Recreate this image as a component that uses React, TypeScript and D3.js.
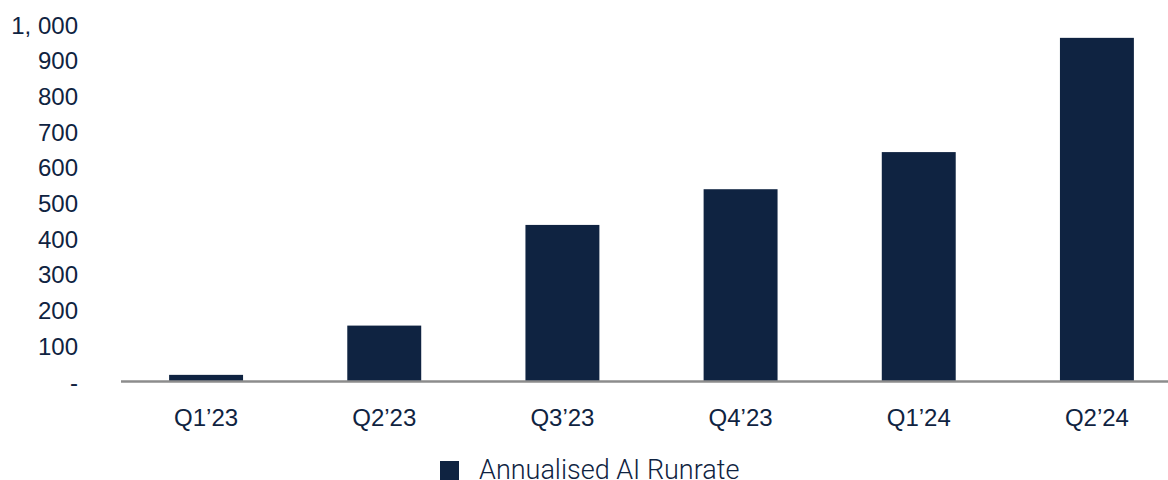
import React from "react";
import * as d3 from "d3";

const categories = ["Q1\u201923", "Q2\u201923", "Q3\u201923", "Q4\u201923", "Q1\u201924", "Q2\u201924"];
const runrate = [20, 158, 440, 540, 644, 964];
const yTicks = [0, 100, 200, 300, 400, 500, 600, 700, 800, 900, 1000];
const legendLabel = "Annualised AI Runrate";

const W = 1168;
const H = 480;
const NAVY = "#0f2341";

function fmt(v: number) {
  if (v === 0) return "-";
  if (v >= 1000) return d3.format(",")(v).replace(",", ", ");
  return String(v);
}

export default function App() {
  const x = d3.scaleBand<string>().domain(categories).range([117, 1186]).paddingInner(0.585).paddingOuter(0.2925);
  const y = d3.scaleLinear().domain([0, 1000]).range([382, 25]);
  return (
    <svg width={W} height={H} style={{ position: "absolute", left: 0, top: 0 }}>
      <rect width={W} height={H} fill="#fff" />
      {categories.map((c, i) => (
        <rect key={c} x={x(c)} y={y(runrate[i])} width={x.bandwidth()} height={y(0) - y(runrate[i])} fill={NAVY} />
      ))}
      <line x1={121} x2={W} y1={381.5} y2={381.5} stroke="#8c8c8c" strokeWidth={2.5} />
      {yTicks.map((t) => (
        <text key={t} x={78} y={y(t) + 8.5} textAnchor="end" fontFamily="Liberation Sans, Arial, sans-serif" fontSize={24} fill={NAVY}>
          {fmt(t)}
        </text>
      ))}
      {categories.map((c) => (
        <text key={c} x={(x(c) as number) + x.bandwidth() / 2} y={426} textAnchor="middle" fontFamily="Liberation Sans, Arial, sans-serif" fontSize={24} fill={NAVY}>
          {c}
        </text>
      ))}
      <rect x={440} y={461} width={19} height={19} fill={NAVY} />
      <text x={479} y={478.5} fontFamily="Roboto, sans-serif" fontWeight={300} fontSize={27} fill={NAVY}>
        {legendLabel}
      </text>
    </svg>
  );
}
